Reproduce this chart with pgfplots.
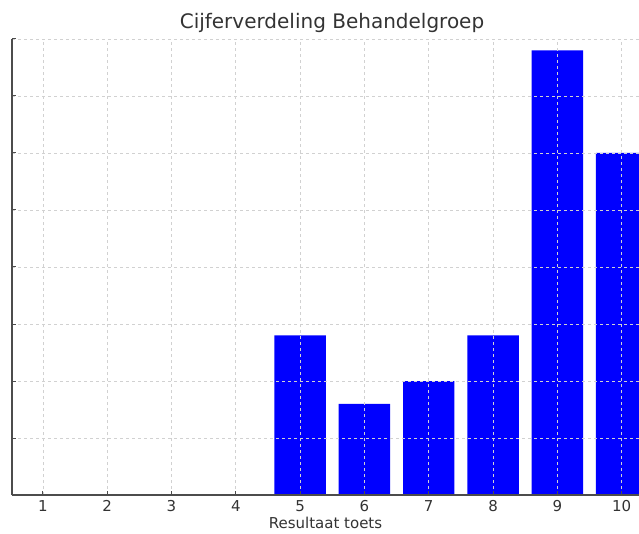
\documentclass[border=0pt]{standalone}
\usepackage{pgfplots}
\pgfplotsset{compat=1.18}
\usepackage{fontspec}
\setmainfont{DejaVu Sans}
\begin{document}
\begin{tikzpicture}[x=1pt,y=1pt]
\useasboundingbox (0,0) rectangle (639,533);
\begin{axis}[
  at={(12pt,38pt)}, anchor=south west,
  scale only axis, width=627pt, height=456pt,
  xmin=0.52, xmax=10.27, ymin=0, ymax=20,
  axis x line*=bottom, axis y line*=left,
  axis line style={draw=black!70, line width=1.2pt},
  xtick={1,...,10}, xticklabels={1,2,3,4,5,6,7,8,9,10},
  ytick={0,2.5,...,20}, yticklabels={},
  tick align=inside, major tick length=4pt,
  tick style={draw=black!70, line width=1pt},
  grid=major, grid style={dashed, draw=black!18, line width=0.6pt},
  axis on top,
  every tick label/.append style={font=\fontsize{15}{17}\selectfont, text=black!80},
  xticklabel style={yshift=-2pt},
  xlabel={Resultaat toets},
  xlabel style={font=\fontsize{15}{17}\selectfont, text=black!80, yshift=-1pt, inner sep=1pt},
  clip=true,
]
\addplot[ybar, bar width=0.8, fill=blue, draw=none] coordinates {
(5,7) (6,4) (7,5) (8,7) (9,19.5) (10,15)};
\end{axis}
\node[font=\fontsize{20}{23}\selectfont, text=black!80, anchor=base] at (332,504) {Cijferverdeling Behandelgroep};
\end{tikzpicture}
\end{document}
